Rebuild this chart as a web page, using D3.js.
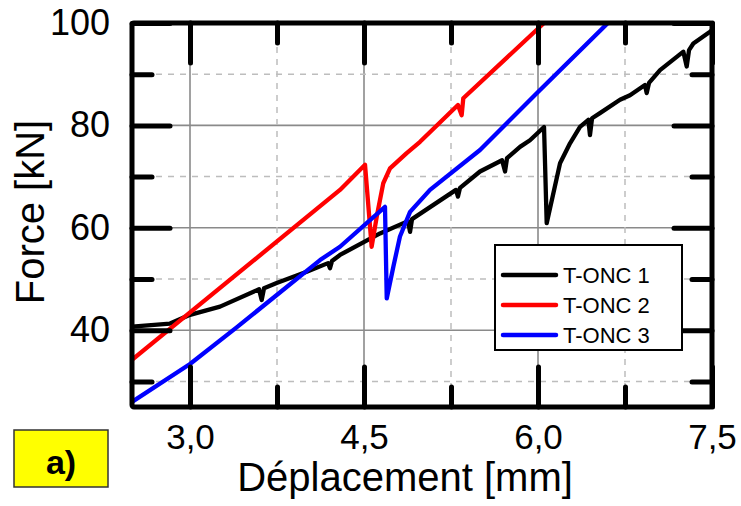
<!DOCTYPE html>
<html>
<head>
<meta charset="utf-8">
<script src="https://cdn.jsdelivr.net/npm/d3@7"></script>
<style>
  html, body { margin: 0; padding: 0; background: #fff; }
  svg { display: block; font-family: "Liberation Sans", Arial, sans-serif; }
</style>
</head>
<body>
<svg id="chart" width="741" height="506"></svg>
<script>
// ---- data ----
const seriesNames = ["T-ONC 1", "T-ONC 2", "T-ONC 3"];
const seriesColors = ["#000000", "#ff0000", "#0000ff"];

const onc1X = [2.5, 2.828, 3.0, 3.259, 3.595, 3.618, 3.638, 3.747, 4.006, 4.19, 4.207, 4.224, 4.293, 4.638, 4.879, 4.897, 4.914, 5.293, 5.31, 5.328, 5.5, 5.69, 5.716, 5.733, 5.845, 5.931, 6.052, 6.075, 6.132, 6.19, 6.276, 6.362, 6.434, 6.448, 6.466, 6.534, 6.707, 6.793, 6.922, 6.937, 6.957, 7.052, 7.253, 7.282, 7.302, 7.339, 7.483, 7.5];
const onc1Y = [40.7, 41.3, 43.0, 44.6, 48.0, 45.9, 48.2, 49.2, 51.4, 53.1, 52.1, 53.5, 54.7, 58.9, 61.3, 59.2, 61.7, 67.4, 66.1, 67.8, 71.0, 73.2, 71.0, 73.6, 75.8, 77.1, 79.7, 60.9, 66.7, 72.6, 76.5, 79.7, 81.1, 78.1, 81.4, 82.4, 85.0, 85.9, 87.9, 86.3, 88.3, 90.8, 94.4, 91.5, 94.7, 96.0, 98.3, 98.6];

const onc2X = [2.5, 4.293, 4.509, 4.566, 4.61, 4.666, 4.724, 4.868, 4.983, 5.31, 5.342, 5.356, 6.043];
const onc2Y = [34.2, 67.4, 72.3, 56.3, 62.2, 68.7, 71.6, 74.6, 76.8, 84.0, 82.0, 85.3, 99.8];

const onc3X = [2.5, 3.0, 3.405, 4.121, 4.293, 4.681, 4.696, 4.753, 4.81, 4.897, 5.069, 5.5, 5.989, 6.603];
const onc3Y = [26.0, 33.4, 40.6, 53.7, 56.3, 64.1, 46.2, 52.4, 58.3, 63.1, 67.4, 75.2, 86.3, 100.0];

const xMajorTicks = [3.0, 4.5, 6.0, 7.5];
const xMinorTicks = [3.75, 5.25, 6.75];
const yMajorTicks = [40, 60, 80, 100];
const yMinorTicks = [30, 50, 70, 90];
const xTickLabels = ["3,0", "4,5", "6,0", "7,5"];
const yTickLabels = ["40", "60", "80", "100"];
const xTitle = "Déplacement [mm]";
const yTitle = "Force [kN]";
const panelLabel = "a)";

// ---- layout ----
const svg = d3.select("#chart");
const L = 132, R = 712, T = 23, B = 407;
const x = d3.scaleLinear().domain([2.5, 7.5]).range([L, R]);
const y = d3.scaleLinear().domain([25, 100]).range([B, T]);

svg.append("defs").append("clipPath").attr("id", "clip")
  .append("rect").attr("x", L).attr("y", T).attr("width", R - L).attr("height", B - T);

// grid
const grid = svg.append("g");
grid.selectAll(".gxM").data(xMajorTicks.filter(d => d < 7.5)).enter().append("line")
  .attr("x1", d => x(d)).attr("x2", d => x(d)).attr("y1", T).attr("y2", B)
  .attr("stroke", "#8a8a8a").attr("stroke-width", 1.6);
grid.selectAll(".gyM").data(yMajorTicks.filter(d => d < 100)).enter().append("line")
  .attr("y1", d => y(d)).attr("y2", d => y(d)).attr("x1", L).attr("x2", R)
  .attr("stroke", "#8a8a8a").attr("stroke-width", 1.6);
grid.selectAll(".gxm").data(xMinorTicks).enter().append("line")
  .attr("x1", d => x(d)).attr("x2", d => x(d)).attr("y1", T).attr("y2", B)
  .attr("stroke", "#bdbdbd").attr("stroke-width", 1.5).attr("stroke-dasharray", "6,6");
grid.selectAll(".gym").data(yMinorTicks).enter().append("line")
  .attr("y1", d => y(d)).attr("y2", d => y(d)).attr("x1", L).attr("x2", R)
  .attr("stroke", "#bdbdbd").attr("stroke-width", 1.5).attr("stroke-dasharray", "6,6");

// curves
const series = [
  { name: seriesNames[0], color: seriesColors[0], xs: onc1X, ys: onc1Y },
  { name: seriesNames[1], color: seriesColors[1], xs: onc2X, ys: onc2Y },
  { name: seriesNames[2], color: seriesColors[2], xs: onc3X, ys: onc3Y }
];
const line = d3.line().x(d => x(d[0])).y(d => y(d[1]));
const curves = svg.append("g").attr("clip-path", "url(#clip)");
series.forEach(s => {
  curves.append("path")
    .datum(s.xs.map((v, i) => [v, s.ys[i]]))
    .attr("d", line)
    .attr("fill", "none")
    .attr("stroke", s.color)
    .attr("stroke-width", 4.3)
    .attr("stroke-linejoin", "round")
    .attr("stroke-linecap", "round");
});

// ticks (inward) via d3 axes
function styleTicks(g) {
  g.select(".domain").remove();
  g.selectAll(".tick line").attr("stroke", "#000").attr("stroke-width", 5).attr("stroke-linecap", "round");
}
function noText(g) { g.selectAll("text").remove(); }

svg.append("g").attr("transform", `translate(0,${B})`)
  .call(d3.axisBottom(x).tickValues(xMajorTicks).tickSizeInner(-40).tickSizeOuter(0)
    .tickPadding(17).tickFormat((d, i) => xTickLabels[i]))
  .call(styleTicks)
  .call(g => g.selectAll("text").attr("font-size", 35).attr("fill", "#000")
    .attr("font-family", "'Liberation Sans', Arial, sans-serif"));
svg.append("g").attr("transform", `translate(0,${B})`)
  .call(d3.axisBottom(x).tickValues(xMinorTicks).tickSizeInner(-20).tickSizeOuter(0))
  .call(styleTicks).call(noText);
svg.append("g").attr("transform", `translate(0,${T})`)
  .call(d3.axisTop(x).tickValues(xMajorTicks).tickSizeInner(-40).tickSizeOuter(0))
  .call(styleTicks).call(noText);
svg.append("g").attr("transform", `translate(0,${T})`)
  .call(d3.axisTop(x).tickValues(xMinorTicks).tickSizeInner(-20).tickSizeOuter(0))
  .call(styleTicks).call(noText);

svg.append("g").attr("transform", `translate(${L},0)`)
  .call(d3.axisLeft(y).tickValues(yMajorTicks).tickSizeInner(-38).tickSizeOuter(0)
    .tickPadding(22).tickFormat((d, i) => yTickLabels[i]))
  .call(styleTicks)
  .call(g => g.selectAll("text").attr("font-size", 36).attr("fill", "#000")
    .attr("font-family", "'Liberation Sans', Arial, sans-serif"));
svg.append("g").attr("transform", `translate(${L},0)`)
  .call(d3.axisLeft(y).tickValues(yMinorTicks).tickSizeInner(-20).tickSizeOuter(0))
  .call(styleTicks).call(noText);
svg.append("g").attr("transform", `translate(${R},0)`)
  .call(d3.axisRight(y).tickValues(yMajorTicks).tickSizeInner(-38).tickSizeOuter(0))
  .call(styleTicks).call(noText);
svg.append("g").attr("transform", `translate(${R},0)`)
  .call(d3.axisRight(y).tickValues(yMinorTicks).tickSizeInner(-20).tickSizeOuter(0))
  .call(styleTicks).call(noText);

// frame
svg.append("rect").attr("x", L).attr("y", T).attr("width", R - L).attr("height", B - T)
  .attr("fill", "none").attr("stroke", "#000").attr("stroke-width", 5).attr("rx", 2);

// axis titles
svg.append("text").attr("x", 405).attr("y", 491).attr("text-anchor", "middle")
  .attr("font-size", 40).attr("fill", "#000").text(xTitle);
svg.append("text").attr("transform", "translate(44,212) rotate(-90)").attr("text-anchor", "middle")
  .attr("font-size", 40).attr("fill", "#000").text(yTitle);

// legend
const lg = svg.append("g");
lg.append("rect").attr("x", 495).attr("y", 245).attr("width", 187).attr("height", 105)
  .attr("fill", "#fff").attr("stroke", "#000").attr("stroke-width", 2);
series.forEach((s, i) => {
  const yy = 275 + i * 30;
  lg.append("line").attr("x1", 503).attr("x2", 556).attr("y1", yy).attr("y2", yy)
    .attr("stroke", s.color).attr("stroke-width", 4.5).attr("stroke-linecap", "round");
  lg.append("text").attr("x", 563).attr("y", yy).attr("dy", "0.36em")
    .attr("font-size", 22).attr("fill", "#000").text(s.name);
});

// panel label
svg.append("rect").attr("x", 14).attr("y", 430).attr("width", 94).attr("height", 57)
  .attr("fill", "#ffff00").attr("stroke", "#333").attr("stroke-width", 1.5);
svg.append("text").attr("x", 61).attr("y", 462).attr("dy", "0.36em").attr("text-anchor", "middle")
  .attr("font-size", 34).attr("font-weight", "bold").attr("fill", "#000").text(panelLabel);
</script>
</body>
</html>
